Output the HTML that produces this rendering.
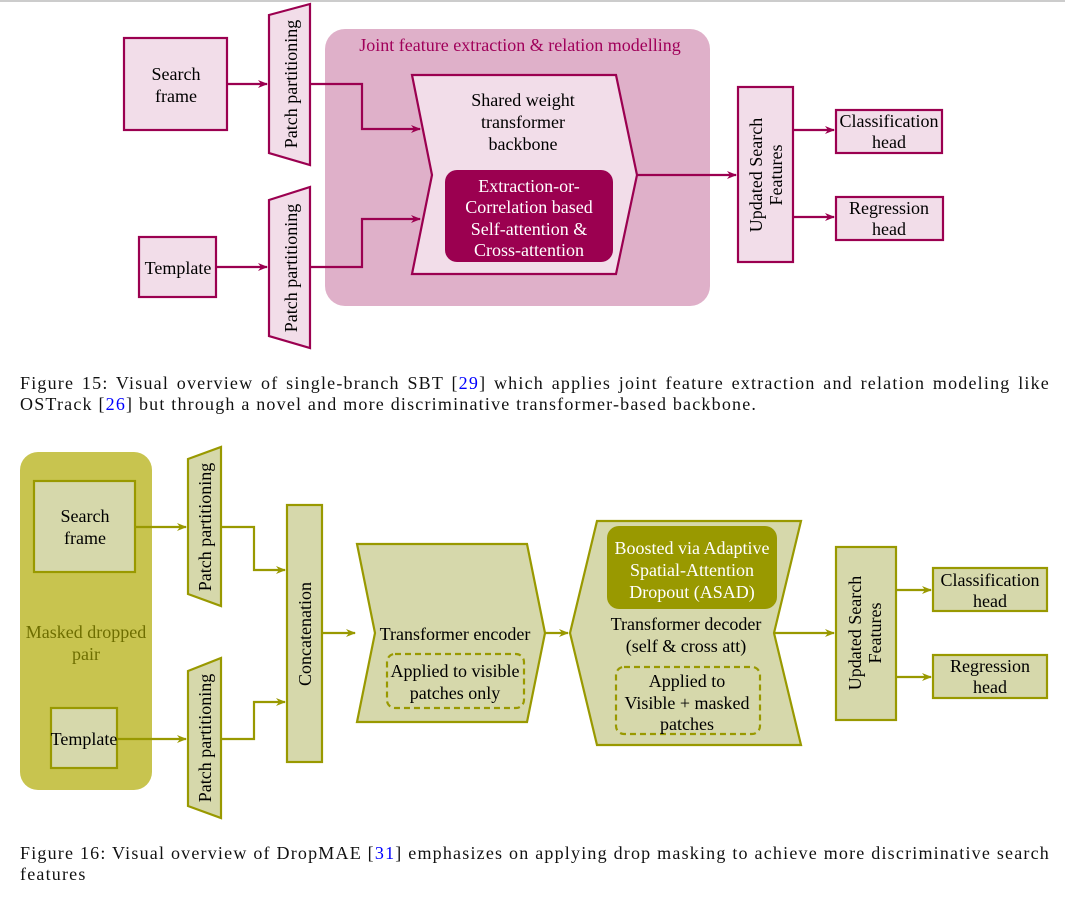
<!DOCTYPE html>
<html><head><meta charset="utf-8"><style>
body{margin:0;width:1065px;height:897px;background:#fff;position:relative;overflow:hidden;font-family:"Liberation Serif",serif}
svg{position:absolute;left:0;top:0}
.cap{position:absolute;left:20px;width:1030px;font-size:18px;line-height:21px;text-align:justify;text-align-last:left;color:#111;letter-spacing:1.2px}
.cap a{color:#00f}
</style></head><body>
<svg width="1065" height="897" viewBox="0 0 1065 897" font-family="Liberation Serif, serif" font-size="18">
<defs>
<marker id="am" markerWidth="10" markerHeight="10" refX="9" refY="5" orient="auto" markerUnits="userSpaceOnUse"><path d="M0,1 L10,5 L0,9 L3,5z" fill="#9b0050"/></marker>
<marker id="ao" markerWidth="10" markerHeight="10" refX="9" refY="5" orient="auto" markerUnits="userSpaceOnUse"><path d="M0,1 L10,5 L0,9 L3,5z" fill="#999900"/></marker>
</defs>
<line x1="0" y1="1" x2="1065" y2="1" stroke="#bbb" stroke-width="1.5"/>
<!-- TOP -->
<g stroke="#9b0050" stroke-width="2.2" fill="#f2dde9">
<rect x="325" y="29" width="385" height="277" rx="20" fill="#dfb0c9" stroke="none"/>
<rect x="124" y="38" width="103" height="92"/>
<rect x="139" y="237" width="77" height="60"/>
<polygon points="269,15 310,4 310,165 269,153"/>
<polygon points="269,200 310,187 310,348 269,336"/>
<polygon points="412,75 616,75 637,175 616,274 412,274 432,175"/>
<rect x="445" y="170" width="168" height="92" rx="12" fill="#9b0050" stroke="none"/>
<rect x="738" y="87" width="55" height="175"/>
<rect x="836" y="110" width="106" height="43"/>
<rect x="836" y="197" width="107" height="43"/>
</g>
<g stroke="#9b0050" stroke-width="2.2" fill="none">
<path d="M227,84 H267" marker-end="url(#am)"/>
<path d="M216,267 H267" marker-end="url(#am)"/>
<path d="M310,84 H362 V129 H420" marker-end="url(#am)"/>
<path d="M310,267 H362 V219 H420" marker-end="url(#am)"/>
<path d="M637,175 H736" marker-end="url(#am)"/>
<path d="M793,130 H834" marker-end="url(#am)"/>
<path d="M793,217 H834" marker-end="url(#am)"/>
</g>
<g text-anchor="middle" fill="#000">
<text x="520" y="51" fill="#a0005a" font-size="18">Joint feature extraction &amp; relation modelling</text>
<text x="176" y="80">Search</text><text x="176" y="102">frame</text>
<text x="178" y="274">Template</text>
<text transform="translate(297,84) rotate(-90)">Patch partitioning</text>
<text transform="translate(297,268) rotate(-90)">Patch partitioning</text>
<text x="523" y="106">Shared weight</text><text x="523" y="128">transformer</text><text x="523" y="150">backbone</text>
<g fill="#fff"><text x="529" y="192">Extraction-or-</text><text x="529" y="213">Correlation based</text><text x="529" y="235">Self-attention &amp;</text><text x="529" y="256">Cross-attention</text></g>
<text transform="translate(762,175) rotate(-90)">Updated Search</text>
<text transform="translate(782,175) rotate(-90)">Features</text>
<text x="889" y="127">Classification</text><text x="889" y="148">head</text>
<text x="889" y="214">Regression</text><text x="889" y="235">head</text>
</g>
<!-- BOTTOM -->
<g stroke="#999900" stroke-width="2.2" fill="#d6d8ab">
<rect x="20" y="452" width="132" height="338" rx="18" fill="#c8c44f" stroke="none"/>
<rect x="34" y="481" width="101" height="91"/>
<rect x="51" y="708" width="66" height="60"/>
<polygon points="188,459 221,447 221,606 188,594"/>
<polygon points="188,671 221,658 221,818 188,806"/>
<rect x="287" y="505" width="35" height="257"/>
<polygon points="357,544 527,544 545,633 527,722 357,722 375,633"/>
<polygon points="597,521 801,521 774,633 801,745 597,745 570,633"/>
<rect x="607" y="526" width="170" height="83" rx="12" fill="#999900" stroke="none"/>
<rect x="836" y="547" width="60" height="173"/>
<rect x="933" y="568" width="114" height="43"/>
<rect x="933" y="655" width="114" height="43"/>
</g>
<g stroke="#999900" stroke-width="2.2" fill="none">
<rect x="387" y="654" width="137" height="54" rx="8" stroke-dasharray="6,4"/>
<rect x="616" y="667" width="144" height="67" rx="8" stroke-dasharray="6,4"/>
<path d="M135,527 H186" marker-end="url(#ao)"/>
<path d="M117,739 H186" marker-end="url(#ao)"/>
<path d="M221,527 H254 V570 H285" marker-end="url(#ao)"/>
<path d="M221,739 H254 V702 H285" marker-end="url(#ao)"/>
<path d="M322,633 H355" marker-end="url(#ao)"/>
<path d="M545,633 H568" marker-end="url(#ao)"/>
<path d="M774,633 H834" marker-end="url(#ao)"/>
<path d="M896,590 H931" marker-end="url(#ao)"/>
<path d="M896,677 H931" marker-end="url(#ao)"/>
</g>
<g text-anchor="middle" fill="#000">
<text x="85" y="522">Search</text><text x="85" y="544">frame</text>
<text x="84" y="745">Template</text>
<text x="86" y="638" fill="#6e6e00">Masked dropped</text><text x="86" y="660" fill="#6e6e00">pair</text>
<text transform="translate(211,527) rotate(-90)">Patch partitioning</text>
<text transform="translate(211,738) rotate(-90)">Patch partitioning</text>
<text transform="translate(311,634) rotate(-90)">Concatenation</text>
<text x="455" y="640">Transformer encoder</text>
<text x="455" y="677">Applied to visible</text><text x="455" y="699">patches only</text>
<g fill="#fff"><text x="692" y="554">Boosted via Adaptive</text><text x="692" y="576">Spatial-Attention</text><text x="692" y="598">Dropout (ASAD)</text></g>
<text x="686" y="630">Transformer decoder</text><text x="686" y="652">(self &amp; cross att)</text>
<text x="687" y="687">Applied to</text><text x="687" y="709">Visible + masked</text><text x="687" y="730">patches</text>
<text transform="translate(861,633) rotate(-90)">Updated Search</text>
<text transform="translate(881,633) rotate(-90)">Features</text>
<text x="990" y="586">Classification</text><text x="990" y="607">head</text>
<text x="990" y="672">Regression</text><text x="990" y="693">head</text>
</g>
</svg>
<div class="cap" style="top:373px">Figure 15: Visual overview of single-branch SBT [<a>29</a>] which applies joint feature extraction and relation modeling like OSTrack [<a>26</a>] but through a novel and more discriminative transformer-based backbone.</div>
<div class="cap" style="top:843px">Figure 16: Visual overview of DropMAE [<a>31</a>] emphasizes on applying drop masking to achieve more discriminative search features</div>
</body></html>
